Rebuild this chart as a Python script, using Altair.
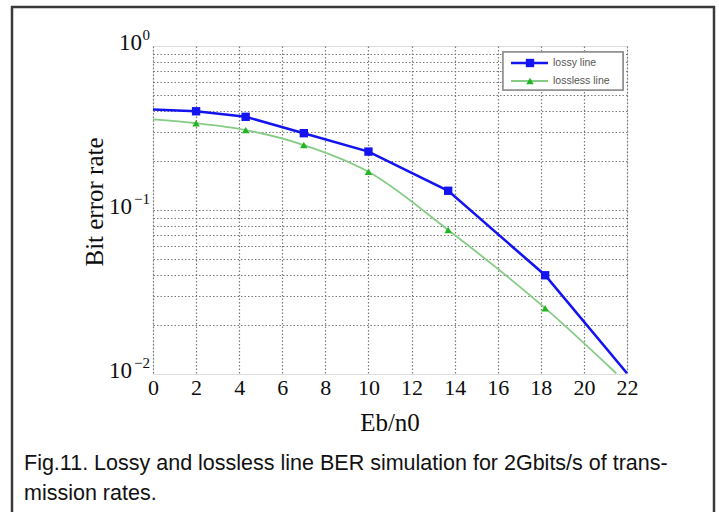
import altair as alt
import pandas as pd

# Simulated BER curves (Eb/n0 in dB)
eb_lossy = [0, 2, 4.3, 7, 10, 13.7, 18.2, 22]
ber_lossy = [0.41, 0.40, 0.37, 0.294, 0.227, 0.131, 0.040, 0.0101]
mark_lossy = [False, True, True, True, True, True, True, False]

eb_lossless = [0, 2, 4.3, 7, 10, 13.7, 18.2, 21.5]
ber_lossless = [0.357, 0.338, 0.307, 0.249, 0.171, 0.0755, 0.0252, 0.0101]
mark_lossless = [False, True, True, True, True, True, True, False]

series_names = ["lossy line", "lossless line"]

x_ticks = list(range(0, 23, 2))
y_label_values = [1, 0.1, 0.01]
y_label_exps = ["0", "\u22121", "\u22122"]
y_grid_values = [0.02, 0.03, 0.04, 0.05, 0.06, 0.07, 0.08, 0.09, 0.1,
                 0.2, 0.3, 0.4, 0.5, 0.6, 0.7, 0.8, 0.9]

caption_lines = [
    "Fig.11. Lossy and lossless line BER simulation for 2Gbits/s of trans-",
    "mission rates.",
]

BLUE = "#1414f0"
GREEN_LINE = "#86cc86"
GREEN_MARK = "#22b522"
SERIF = "Liberation Serif"
SANS = "Liberation Sans"
INK = "#0d0d0d"

W, H = 474, 328

lossy = pd.DataFrame({"eb": eb_lossy, "ber": ber_lossy, "m": mark_lossy,
                      "series": series_names[0]})
lossless = pd.DataFrame({"eb": eb_lossless, "ber": ber_lossless, "m": mark_lossless,
                         "series": series_names[1]})

xs = alt.Scale(domain=[0, 22], nice=False, zero=False)
ys = alt.Scale(type="log", domain=[0.01, 1], nice=False)

x_enc = alt.X("eb:Q", scale=xs, axis=alt.Axis(
    values=x_ticks, grid=True, gridDash=[1.5, 2], gridColor="#7a7a7a", gridWidth=1.2,
    ticks=False, domain=False, labelFont=SERIF, labelFontSize=22, labelColor=INK,
    labelPadding=3, title=None, labelFlush=False))
y_enc = alt.Y("ber:Q", scale=ys, axis=alt.Axis(
    values=y_grid_values, grid=True, gridDash=[1.5, 2], gridColor="#7a7a7a", gridWidth=1.2,
    ticks=False, domain=False, labels=False, title=None))

# grid layer (axes only)
grid = alt.Chart(lossy).mark_point(opacity=0).encode(x=x_enc, y=y_enc)

line_lossy = alt.Chart(lossy).mark_line(color=BLUE, strokeWidth=2.6).encode(
    x=alt.X("eb:Q", scale=xs), y=alt.Y("ber:Q", scale=ys))
pts_lossy = alt.Chart(lossy).transform_filter("datum.m").mark_point(
    shape="square", filled=True, color=BLUE, size=70, opacity=1).encode(
    x=alt.X("eb:Q", scale=xs), y=alt.Y("ber:Q", scale=ys))

line_lossless = alt.Chart(lossless).mark_line(
    color=GREEN_LINE, strokeWidth=1.8, interpolate="monotone").encode(
    x=alt.X("eb:Q", scale=xs), y=alt.Y("ber:Q", scale=ys))
pts_lossless = alt.Chart(lossless).transform_filter("datum.m").mark_point(
    shape="triangle-up", filled=True, color=GREEN_MARK, size=55, opacity=1).encode(
    x=alt.X("eb:Q", scale=xs), y=alt.Y("ber:Q", scale=ys))

# y tick labels written as 10 with a raised exponent
ylab = pd.DataFrame({"v": y_label_values, "e": y_label_exps})
y_exp = alt.Chart(ylab).mark_text(
    align="right", baseline="middle", font=SERIF, fontSize=15, dy=-11,
    color=INK).encode(x=alt.value(-3), y=alt.Y("v:Q", scale=ys), text="e:N")
y_base_pos = alt.Chart(ylab).transform_filter("datum.v >= 1").mark_text(
    align="right", baseline="middle", font=SERIF, fontSize=23, dy=-3,
    color=INK).encode(x=alt.value(-11), y=alt.Y("v:Q", scale=ys), text=alt.value("10"))
y_base_neg = alt.Chart(ylab).transform_filter("datum.v < 1").mark_text(
    align="right", baseline="middle", font=SERIF, fontSize=23, dy=-3,
    color=INK).encode(x=alt.value(-21), y=alt.Y("v:Q", scale=ys), text=alt.value("10"))

title_df = pd.DataFrame({"t": ["Bit error rate", "Eb/n0"]})
y_title = alt.Chart(title_df).transform_filter("datum.t == 'Bit error rate'").mark_text(
    angle=270, align="center", baseline="middle", font=SERIF, fontSize=25,
    color=INK).encode(x=alt.value(-58), y=alt.value(156), text="t:N")
x_title = alt.Chart(title_df).transform_filter("datum.t == 'Eb/n0'").mark_text(
    align="center", baseline="middle", font=SERIF, fontSize=25,
    color=INK).encode(x=alt.value(W / 2), y=alt.value(377), text="t:N")

# legend box in the upper-right corner
leg_box = alt.Chart(title_df).mark_rect(
    fill="white", stroke="#8c8c8c", strokeWidth=1.5).encode(
    x=alt.value(350), x2=alt.value(470), y=alt.value(6), y2=alt.value(44))
leg_df = pd.DataFrame({"series": series_names})
leg_line1 = alt.Chart(leg_df).transform_filter("datum.series == 'lossy line'").mark_rule(
    color=BLUE, strokeWidth=2.6).encode(x=alt.value(358), x2=alt.value(395), y=alt.value(17))
leg_pt1 = alt.Chart(leg_df).transform_filter("datum.series == 'lossy line'").mark_point(
    shape="square", filled=True, color=BLUE, size=70, opacity=1).encode(
    x=alt.value(377), y=alt.value(17))
leg_txt1 = alt.Chart(leg_df).transform_filter("datum.series == 'lossy line'").mark_text(
    align="left", baseline="middle", font=SANS, fontSize=10.5, color="#555").encode(
    x=alt.value(400), y=alt.value(17), text="series:N")
leg_line2 = alt.Chart(leg_df).transform_filter("datum.series == 'lossless line'").mark_rule(
    color=GREEN_LINE, strokeWidth=1.8).encode(x=alt.value(358), x2=alt.value(395), y=alt.value(35))
leg_pt2 = alt.Chart(leg_df).transform_filter("datum.series == 'lossless line'").mark_point(
    shape="triangle-up", filled=True, color=GREEN_MARK, size=55, opacity=1).encode(
    x=alt.value(377), y=alt.value(35))
leg_txt2 = alt.Chart(leg_df).transform_filter("datum.series == 'lossless line'").mark_text(
    align="left", baseline="middle", font=SANS, fontSize=10.5, color="#555").encode(
    x=alt.value(400), y=alt.value(35), text="series:N")

# figure caption and outer frame
cap_df = pd.DataFrame({"line": caption_lines, "i": [0, 1]})
cap1 = alt.Chart(cap_df).transform_filter("datum.i == 0").mark_text(
    align="left", baseline="middle", font=SANS, fontSize=21.5, color="#111").encode(
    x=alt.value(-129), y=alt.value(418), text="line:N")
cap2 = alt.Chart(cap_df).transform_filter("datum.i == 1").mark_text(
    align="left", baseline="middle", font=SANS, fontSize=21.5, color="#111").encode(
    x=alt.value(-129), y=alt.value(448), text="line:N")
frame = alt.Chart(cap_df).transform_filter("datum.i == 0").mark_rect(
    fillOpacity=0, stroke="#3a3a3a", strokeWidth=2.5).encode(
    x=alt.value(-141), x2=alt.value(561), y=alt.value(-39), y2=alt.value(480))

chart = alt.layer(
    frame, grid, line_lossless, line_lossy, pts_lossless, pts_lossy,
    y_exp, y_base_pos, y_base_neg, y_title, x_title,
    leg_box, leg_line1, leg_pt1, leg_txt1, leg_line2, leg_pt2, leg_txt2,
    cap1, cap2,
).properties(
    width=W, height=H,
    autosize=alt.AutoSizeParams(type="none"),
    padding={"left": 153, "top": 46, "right": 92, "bottom": 138},
).configure_view(
    stroke="#8a8a8a", strokeWidth=1.5
).configure(background="white")

chart.save("out.html", embed_options={"renderer": "svg", "actions": False})
